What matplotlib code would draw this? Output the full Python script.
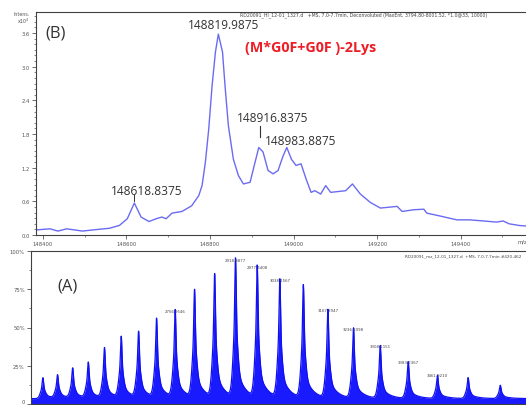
import numpy as np
import matplotlib
matplotlib.use("Agg")
import matplotlib.pyplot as plt
from matplotlib.ticker import MultipleLocator

# ---------------- data: panel (B) deconvoluted spectrum ----------------
mass_B = [148383, 148417, 148436, 148457, 148495, 148519, 148559, 148583, 148602, 148618.84,
          148635, 148654, 148671, 148685, 148695, 148709, 148733, 148756, 148773, 148781,
          148789, 148797, 148805, 148813, 148819.99, 148830, 148836, 148844, 148856, 148868,
          148880, 148896, 148908, 148916.84, 148927, 148939, 148951, 148963, 148975, 148983.89,
          148995, 149006, 149018, 149030, 149042, 149051, 149065, 149077, 149089, 149125,
          149141, 149160, 149184, 149208, 149248, 149260, 149288, 149312, 149319, 149350,
          149391, 149421, 149455, 149486, 149502, 149516, 149540, 149557]
intens_B = [0.09, 0.11, 0.07, 0.11, 0.07, 0.09, 0.12, 0.17, 0.29, 0.57,
            0.32, 0.24, 0.29, 0.32, 0.29, 0.39, 0.42, 0.52, 0.70, 0.88,
            1.30, 1.89, 2.66, 3.26, 3.58, 3.26, 2.66, 1.95, 1.35, 1.06,
            0.91, 0.94, 1.30, 1.56, 1.48, 1.15, 1.09, 1.15, 1.41, 1.56,
            1.35, 1.24, 1.27, 1.00, 0.76, 0.79, 0.73, 0.88, 0.76, 0.79,
            0.91, 0.73, 0.58, 0.48, 0.51, 0.42, 0.45, 0.46, 0.39, 0.34,
            0.27, 0.27, 0.25, 0.23, 0.25, 0.20, 0.17, 0.16]
labels_B = ["148618.8375", "148819.9875", "148916.8375", "148983.8875"]
annot_B = "(M*G0F+G0F )-2Lys"

# ---------------- data: panel (A) charge-state envelope ----------------
peak_mz_A = [2401.33, 2440.68, 2481.34, 2523.38, 2566.87, 2611.89, 2658.51, 2706.83,
             2756.94, 2808.93, 2862.93, 2919.05, 2977.41, 3038.15, 3101.43, 3167.39,
             3236.23, 3308.12, 3383.28, 3461.94, 3544.34, 3630.77]
peak_pct_A = [13.7, 15.2, 19.6, 23.3, 32.7, 39.9, 43.1, 51.6,
              57.1, 70.4, 80.6, 90.8, 86.1, 77.3, 73.7, 57.7,
              45.8, 34.4, 24.0, 15.2, 13.7, 8.7]
labeled_mz_A = [2756.94, 2919.05, 2977.41, 3038.15, 3167.39, 3236.23, 3308.12, 3383.28, 3461.94]
labels_A = ["2756.9546", "2918.8877", "2977.4408", "3038.1567", "3167.3947",
            "3236.2098", "3308.1151", "3383.2367", "3461.9210"]
yticks_A = [0, 25, 50, 75, 100]
yticklabels_A = ["0", "25%", "50%", "75%", "100%"]

W, H = 526, 406
fig = plt.figure(figsize=(W / 100, H / 100), dpi=100)
fig.patch.set_facecolor("white")

def px(x0, y_top, x1, y_bot):
    return [x0 / W, 1 - y_bot / H, (x1 - x0) / W, (y_bot - y_top) / H]

tick_col = "#555555"
spine_col = "#404040"

# ---------------- panel (B) ----------------
axB = fig.add_axes(px(36, 13, 532, 236))
axB.plot(mass_B, intens_B, color="#6b6bf2", lw=1.0, solid_joinstyle="round")
axB.set_xlim(148383.4, 149571)
axB.set_ylim(0, 3.975)
axB.xaxis.set_major_locator(MultipleLocator(200))
axB.xaxis.set_minor_locator(MultipleLocator(100))
axB.yaxis.set_major_locator(MultipleLocator(0.6))
axB.yaxis.set_minor_locator(MultipleLocator(0.1))
axB.yaxis.set_major_formatter(matplotlib.ticker.FormatStrFormatter("%.1f"))
axB.tick_params(axis="both", which="major", labelsize=3.8, colors=tick_col, length=3, width=0.6, pad=1.5)
axB.tick_params(axis="both", which="minor", length=1.5, width=0.5, colors=tick_col)
axB.spines["right"].set_visible(False)
for s in ["left", "top", "bottom"]:
    axB.spines[s].set_color(spine_col)
    axB.spines[s].set_linewidth(0.8)

lab_kw = dict(fontsize=8.6, color="#333333", family=["Open Sans", "DejaVu Sans"])
axB.text(148832, 3.76, labels_B[1], ha="center", va="center", **lab_kw)
axB.text(148949, 2.10, labels_B[2], ha="center", va="center", **lab_kw)
axB.plot([148920, 148920], [1.75, 1.94], color="#333333", lw=0.8)
axB.text(149016, 1.68, labels_B[3], ha="center", va="center", **lab_kw)
axB.text(148649, 0.79, labels_B[0], ha="center", va="center", **lab_kw)
axB.plot([148618.84, 148618.84], [0.61, 0.71], color="#333333", lw=0.7)
axB.text(149041, 3.35, annot_B, ha="center", va="center", fontsize=10.3,
         color="#ee1c25", fontweight="bold", family=["Open Sans", "DejaVu Sans"])

fig.text(55.5 / W, 1 - 33 / H, "(B)", ha="center", va="center", fontsize=12,
         color="#333333", family=["Open Sans", "DejaVu Sans"])
fig.text(30 / W, 1 - 15 / H, "Intens.", ha="right", va="center", fontsize=3.4, color=tick_col)
fig.text(30 / W, 1 - 21 / H, "x10$^4$", ha="right", va="center", fontsize=3.4, color=tick_col)
fig.text(517 / W, 1 - 242 / H, "m/z", ha="left", va="center", fontsize=3.8, color=tick_col)
fig.text(240 / W, 1 - 15 / H,
         "RD20091_HI_12-01_1327.d   +MS, 7.0-7.7min, Deconvoluted (MaxEnt, 3794.80-8001.52, *1.0@33, 10000)",
         ha="left", va="center", fontsize=3.3, color="#444444")

# ---------------- panel (A) ----------------
axA = fig.add_axes(px(31, 252, 532, 405))
grid = np.linspace(2369.3, 3716.0, 9000)
prof = np.full_like(grid, 3.5)
for c, h in zip(peak_mz_A, peak_pct_A):
    d = grid - c
    prof += h * 0.45 * np.exp(-0.5 * (d / 1.8) ** 2)
    prof += h * 0.30 * np.exp(-0.5 * (d / 5.5) ** 2)
    prof += h * 0.25 * np.where(d > 0, np.exp(-d / 20.0), np.exp(-0.5 * (d / 6.5) ** 2))
axA.fill_between(grid, 0, prof, color="#1a1aff", lw=0)
axA.plot(grid, prof, color="#1010f0", lw=0.9)
axA.set_xlim(2369.3, 3716.0)
axA.set_ylim(0, 100)
axA.set_yticks(yticks_A)
axA.set_yticklabels(yticklabels_A)
axA.get_yticklabels()[0].set_va("bottom")
axA.yaxis.set_minor_locator(MultipleLocator(12.5))
axA.xaxis.set_major_locator(MultipleLocator(200))
axA.xaxis.set_minor_locator(MultipleLocator(100))
axA.set_xticklabels([])
axA.tick_params(axis="both", which="major", labelsize=3.8, colors=tick_col, length=3, width=0.6, pad=1.5)
axA.tick_params(axis="both", which="minor", length=1.5, width=0.5, colors=tick_col)
axA.spines["right"].set_visible(False)
for s in ["left", "top", "bottom"]:
    axA.spines[s].set_color(spine_col)
    axA.spines[s].set_linewidth(0.8)

for c, t in zip(labeled_mz_A, labels_A):
    h = peak_pct_A[peak_mz_A.index(c)]
    axA.text(c, h + 2.2, t, ha="center", va="bottom", fontsize=2.8, color="#444444")

fig.text(67.5 / W, 1 - 287 / H, "(A)", ha="center", va="center", fontsize=12,
         color="#333333", family=["Open Sans", "DejaVu Sans"])
fig.text(405 / W, 1 - 256 / H, "RD20091_mz_12-01_1327.d  +MS, 7.0-7.7min #420-462",
         ha="left", va="center", fontsize=3.0, color="#444444")

fig.savefig("out.png", dpi=100, facecolor="white")
